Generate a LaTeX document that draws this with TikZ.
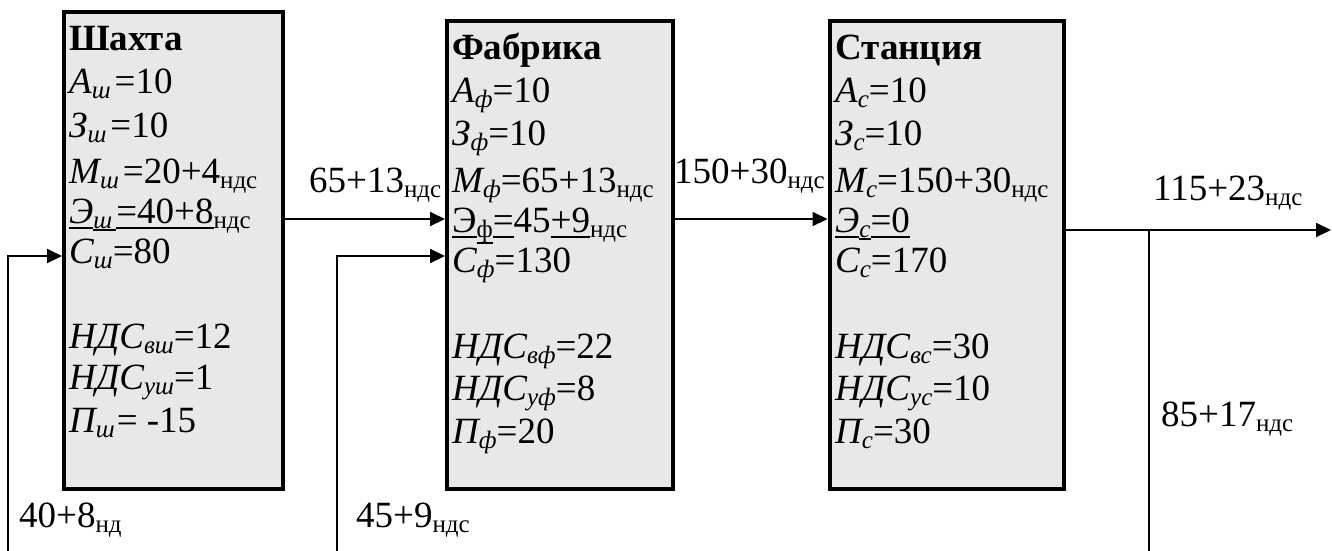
\documentclass[tikz,border=0pt]{standalone}
\usepackage{fontspec}
\setmainfont{Liberation Serif}
\usetikzlibrary{arrows.meta}
\definecolor{boxfill}{RGB}{232,232,232}
\newcommand\mainsize{\fontsize{37}{44}\selectfont}
\newcommand\subsz{\fontsize{25}{25}\selectfont}
\newcommand\sbi[1]{\raisebox{-5pt}{\subsz\itshape #1}}
\newcommand\sbu[1]{\raisebox{-5pt}{\subsz\upshape #1}}
\newcommand\bxline[3]{{\itshape #1}\sbi{#2}#3}
\newsavebox\ulbx
\newcommand\ulm[1]{\sbox\ulbx{#1}\rlap{\rule[-6pt]{\wd\ulbx}{2pt}}\usebox\ulbx}
\newcommand\uls[2]{\sbox\ulbx{#2}\rlap{\rule[#1]{\wd\ulbx}{2pt}}\usebox\ulbx}
\tikzset{
  boxst/.style={draw=black, line width=4pt, fill=boxfill, inner sep=0pt, anchor=north west},
  txt/.style={inner sep=0pt, anchor=base west, font=\mainsize},
  conn/.style={line width=2pt, -{Triangle[length=15pt,width=14pt]}},
  plain/.style={line width=2pt}
}
\begin{document}
\begin{tikzpicture}[x=1pt,y=-1pt]
\useasboundingbox (0,0) rectangle (1332,550);
% boxes
\node[boxst, minimum width=219pt, minimum height=477pt] (b1) at (62,10) {};
\node[boxst, minimum width=226pt, minimum height=468pt] (b2) at (445,19) {};
\node[boxst, minimum width=234.5pt, minimum height=468pt] (b3) at (827.5,19) {};
% box 1 text
\node[txt] (s1) at (69,50) {\bfseries Шахта};
\node[txt] (s2) at (69,93) {\bxline{А}{ш\hspace{4pt}}{=10}};
\node[txt] (s3) at (69,137) {\bxline{З}{ш\hspace{4pt}}{=10}};
\node[txt] (s4) at (69,183) {\bxline{М}{ш\hspace{4pt}}{=20+4\sbu{ндс}}};
\node[txt] (s5) at (69,223) {\ulm{\itshape Э}\raisebox{-5pt}{\subsz\itshape\uls{-3pt}{ш\hspace{4pt}}}\ulm{=40+8}\sbu{ндс}};
\node[txt] (s6) at (69,263) {\bxline{С}{ш}{=80}};
\node[txt] (s7) at (69,348) {\bxline{НДС}{вш}{=12}};
\node[txt] (s8) at (69,389) {\bxline{НДС}{уш}{=1}};
\node[txt] (s9) at (69,432) {\bxline{П}{ш}{\hspace{2pt}= -15}};
% box 2 text
\node[txt] (f1) at (452,59) {\bfseries Фабрика};
\node[txt] (f2) at (452,102) {\bxline{А}{ф}{=10}};
\node[txt] (f3) at (452,145) {\bxline{З}{ф}{=10}};
\node[txt] (f4) at (452,192) {\bxline{М}{ф}{=65+13\sbu{ндс}}};
\node[txt] (f5) at (452,232) {\ulm{Э}\raisebox{-5pt}{\subsz\uls{-7pt}{ф}}\ulm{=}45\ulm{+9}\sbu{ндс}};
\node[txt] (f6) at (452,272) {\bxline{С}{ф}{=130}};
\node[txt] (f7) at (452,358) {\bxline{НДС}{вф}{=22}};
\node[txt] (f8) at (452,400) {\bxline{НДС}{уф}{=8}};
\node[txt] (f9) at (452,443) {\bxline{П}{ф}{=20}};
% box 3 text
\node[txt] (c1) at (835,59) {\bfseries Станция};
\node[txt] (c2) at (835,102) {\bxline{А}{с}{=10}};
\node[txt] (c3) at (835,145) {\bxline{З}{с}{=10}};
\node[txt] (c4) at (835,192) {\bxline{М}{с}{=150+30\sbu{ндс}}};
\node[txt] (c5) at (835,232) {\ulm{\itshape Э}\raisebox{-5pt}{\subsz\itshape\uls{-3pt}{с}}\ulm{=0}};
\node[txt] (c6) at (835,272) {\bxline{С}{с}{=170}};
\node[txt] (c7) at (835,358) {\bxline{НДС}{вс}{=30}};
\node[txt] (c8) at (835,400) {\bxline{НДС}{ус}{=10}};
\node[txt] (c9) at (835,443) {\bxline{П}{с}{=30}};
% flow labels
\node[txt] (l1) at (309,192) {65+13\sbu{ндс}};
\node[txt] (l2) at (674,183) {150+30\sbu{ндс}};
\node[txt] (l3) at (1153,200) {115+23\sbu{ндс}};
\node[txt] (l4) at (1161,426) {85+17\sbu{ндс}};
\node[txt] (l5) at (19,527) {40+8\sbu{нд}};
\node[txt] (l6) at (356,527) {45+9\sbu{ндс}};
% connector levels and free ends
\coordinate (lvA) at (0,219);
\coordinate (lvB) at (0,256);
\coordinate (lvC) at (0,230);
\coordinate (fb1) at (8,551);
\coordinate (fb2) at (337,551);
\coordinate (outend) at (1331,230);
\coordinate (br) at (1149,230);
\coordinate (brend) at (1149,551);
% connectors
\draw[conn] (b1.east |- lvA) -- (b2.west |- lvA);
\draw[conn] (b2.east |- lvA) -- (b3.west |- lvA);
\draw[conn] (fb1) |- (b1.west |- lvB);
\draw[conn] (fb2) |- (b2.west |- lvB);
\draw[conn] (b3.east |- lvC) -- (outend);
\draw[plain] (br) -- (brend);
\end{tikzpicture}
\end{document}
